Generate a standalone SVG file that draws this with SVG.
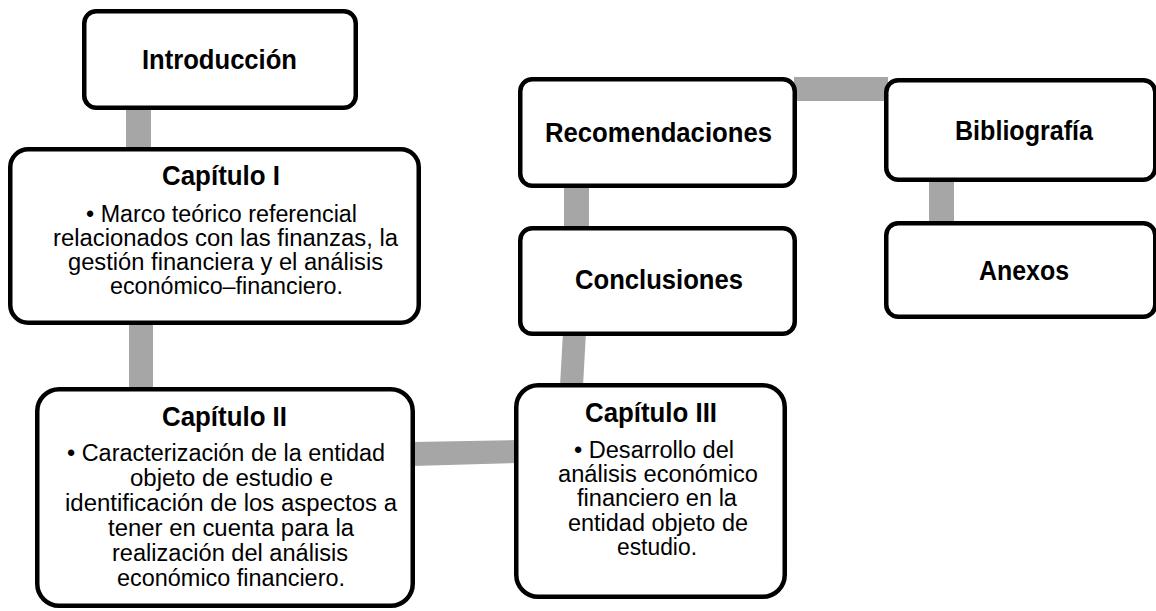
<svg xmlns="http://www.w3.org/2000/svg" width="1156" height="611" viewBox="0 0 1156 611">
<style>
.box{fill:#fff;stroke:#000;stroke-width:4.5}
.conn{fill:#a6a6a6;stroke:none}
.t{font-family:"Liberation Sans",Arial,sans-serif;font-weight:bold;font-size:27px;fill:#000;text-anchor:middle}
.b{font-family:"Liberation Sans",Arial,sans-serif;font-size:23.5px;fill:#000;text-anchor:middle}
</style>
<rect width="1156" height="611" fill="#fff"/>
<g id="connectors">
<rect class="conn" x="126" y="106" width="25" height="45"/>
<rect class="conn" x="129" y="320" width="24" height="70"/>
<polygon class="conn" points="412,442 518,440 518,463 412,466"/>
<polygon class="conn" points="563,332 586,332 583,386 560,386"/>
<rect class="conn" x="564" y="185" width="25" height="44"/>
<rect class="conn" x="794" y="77" width="94" height="24"/>
<rect class="conn" x="929" y="179" width="25" height="45"/>
</g>
<g id="introduccion">
<rect class="box" x="84.25" y="11.25" width="271.5" height="96.5" rx="12"/>
<text class="t" x="219.5" y="69" textLength="155" lengthAdjust="spacingAndGlyphs">Introducción</text>
</g>
<g id="capitulo1">
<rect class="box" x="10.25" y="149.25" width="408.5" height="173.5" rx="18"/>
<text class="t" x="221" y="185" textLength="118" lengthAdjust="spacingAndGlyphs">Capítulo I</text>
<text class="b" x="221.5" y="222" textLength="271" lengthAdjust="spacingAndGlyphs">• Marco teórico referencial</text>
<text class="b" x="225.5" y="246" textLength="345" lengthAdjust="spacingAndGlyphs">relacionados con las finanzas, la</text>
<text class="b" x="225.5" y="270" textLength="315" lengthAdjust="spacingAndGlyphs">gestión financiera y el análisis</text>
<text class="b" x="226.5" y="294" textLength="233" lengthAdjust="spacingAndGlyphs">económico–financiero.</text>
</g>
<g id="capitulo2">
<rect class="box" x="37.25" y="389.25" width="375.5" height="216.5" rx="22"/>
<text class="t" x="224.5" y="426" textLength="125" lengthAdjust="spacingAndGlyphs">Capítulo II</text>
<text class="b" x="226" y="461" textLength="318" lengthAdjust="spacingAndGlyphs">• Caracterización de la entidad</text>
<text class="b" x="231.5" y="486" textLength="203" lengthAdjust="spacingAndGlyphs">objeto de estudio e</text>
<text class="b" x="231" y="511" textLength="332" lengthAdjust="spacingAndGlyphs">identificación de los aspectos a</text>
<text class="b" x="231" y="536" textLength="246" lengthAdjust="spacingAndGlyphs">tener en cuenta para la</text>
<text class="b" x="230" y="561" textLength="236" lengthAdjust="spacingAndGlyphs">realización del análisis</text>
<text class="b" x="231" y="586" textLength="228" lengthAdjust="spacingAndGlyphs">económico financiero.</text>
</g>
<g id="capitulo3">
<rect class="box" x="516.25" y="385.25" width="268.5" height="211.5" rx="22"/>
<text class="t" x="651" y="422" textLength="132" lengthAdjust="spacingAndGlyphs">Capítulo III</text>
<text class="b" x="654" y="458" textLength="160" lengthAdjust="spacingAndGlyphs">• Desarrollo del</text>
<text class="b" x="658" y="482" textLength="200" lengthAdjust="spacingAndGlyphs">análisis económico</text>
<text class="b" x="657" y="506" textLength="160" lengthAdjust="spacingAndGlyphs">financiero en la</text>
<text class="b" x="658" y="531" textLength="180" lengthAdjust="spacingAndGlyphs">entidad objeto de</text>
<text class="b" x="657" y="555" textLength="80" lengthAdjust="spacingAndGlyphs">estudio.</text>
</g>
<g id="recomendaciones">
<rect class="box" x="520.25" y="79.25" width="274.5" height="106.5" rx="12"/>
<text class="t" x="658.5" y="142" textLength="227" lengthAdjust="spacingAndGlyphs">Recomendaciones</text>
</g>
<g id="conclusiones">
<rect class="box" x="520.25" y="228.25" width="274.5" height="105.5" rx="12"/>
<text class="t" x="659" y="289" textLength="168" lengthAdjust="spacingAndGlyphs">Conclusiones</text>
</g>
<g id="bibliografia">
<rect class="box" x="886.25" y="80.25" width="269" height="99.5" rx="12"/>
<text class="t" x="1024" y="140" textLength="138" lengthAdjust="spacingAndGlyphs">Bibliografía</text>
</g>
<g id="anexos">
<rect class="box" x="886.25" y="223.25" width="269" height="93.5" rx="12"/>
<text class="t" x="1024" y="280" textLength="90" lengthAdjust="spacingAndGlyphs">Anexos</text>
</g>
</svg>
